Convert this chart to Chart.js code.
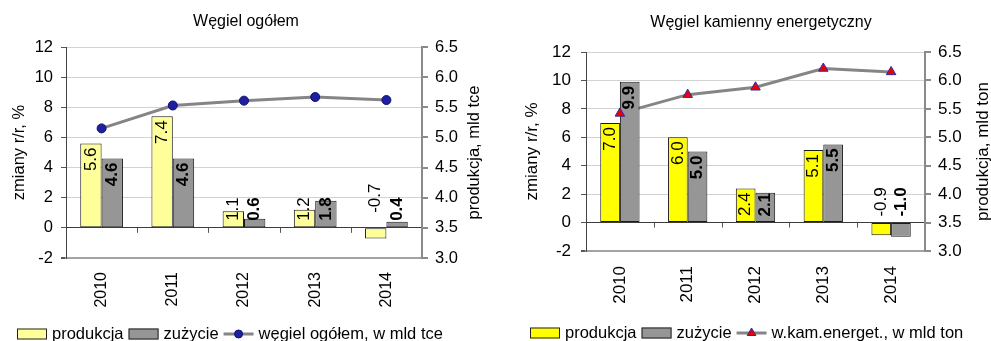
<!DOCTYPE html>
<html>
<head>
<meta charset="utf-8">
<script src="https://cdn.jsdelivr.net/npm/chart.js@4.4.1/dist/chart.umd.min.js"></script>
<style>
html,body{margin:0;padding:0;background:#fff;}
#wrap{position:relative;width:991px;height:341px;overflow:hidden;}
.box{position:absolute;top:0;height:341px;}
canvas{display:block;}
</style>
</head>
<body>
<div id="wrap">
  <div class="box" style="left:0;width:495px"><canvas id="c1" width="495" height="341"></canvas></div>
  <div class="box" style="left:495px;width:496px"><canvas id="c2" width="496" height="341"></canvas></div>
</div>
<script>
// ---- data ----
const years = ['2010', '2011', '2012', '2013', '2014'];

const titleTotal = 'Węgiel ogółem';
const prodTotal = [5.6, 7.4, 1.1, 1.2, -0.7];
const consTotal = [4.6, 4.6, 0.6, 1.8, 0.4];
const outputTotal = [5.15, 5.53, 5.61, 5.67, 5.62];
const lineLabelTotal = 'węgiel ogółem, w mld tce';
const rightTitleTotal = 'produkcja, mld tce';

const titleSteam = 'Węgiel kamienny energetyczny';
const prodSteam = [7.0, 6.0, 2.4, 5.1, -0.9];
const consSteam = [9.9, 5.0, 2.1, 5.5, -1.0];
const outputSteam = [5.42, 5.75, 5.88, 6.21, 6.15];
const lineLabelSteam = 'w.kam.energet., w mld ton';
const rightTitleSteam = 'produkcja, mld ton';

const barLabels = ['produkcja', 'zużycie'];
const leftTitle = 'zmiany r/r, %';
const leftAxis = { min: -2, max: 12, step: 2 };
const rightAxis = { min: 3.0, max: 6.5, step: 0.5 };

// ---- drawing ----
const FAM = "'Liberation Sans', Arial, Helvetica, sans-serif";
Chart.defaults.font.family = FAM;
Chart.defaults.color = '#000';

function vtext(ctx, txt, x, y, align) {
  ctx.save();
  ctx.translate(x, y);
  ctx.rotate(-Math.PI / 2);
  ctx.textAlign = align;
  ctx.textBaseline = 'middle';
  ctx.fillText(txt, 0, 0);
  ctx.restore();
}

function drawMarker(ctx, style, x, y, r, fill, stroke) {
  ctx.save();
  ctx.fillStyle = fill;
  ctx.strokeStyle = stroke;
  ctx.lineWidth = 1;
  ctx.beginPath();
  if (style === 'circle') {
    ctx.arc(x, y, r, 0, Math.PI * 2);
  } else {
    for (let k = 0; k < 3; k++) {
      const a = -Math.PI / 2 + k * 2 * Math.PI / 3;
      const px = x + Math.cos(a) * r, py = y + Math.sin(a) * r;
      if (k === 0) ctx.moveTo(px, py); else ctx.lineTo(px, py);
    }
    ctx.closePath();
  }
  ctx.fill();
  ctx.stroke();
  ctx.restore();
}

function makeChart(id, cfg) {
  const L = cfg.layout;
  const decor = {
    id: 'decor_' + id,
    afterDatasetsDraw(chart) {
      const ctx = chart.ctx;
      const ys = chart.scales.y;
      const zero = ys.getPixelForValue(0);
      [0, 1].forEach(di => {
        const meta = chart.getDatasetMeta(di);
        const vals = chart.data.datasets[di].data;
        ctx.save();
        ctx.fillStyle = '#000';
        ctx.font = (di === 1 ? 'bold ' : '') + L.labelSize + 'px ' + FAM;
        meta.data.forEach((el, i) => {
          const v = vals[i];
          const txt = v.toFixed(1);
          const len = ctx.measureText(txt).width;
          let bottom;
          if (v >= 0) {
            bottom = el.y + L.labelGap + len;
            if (bottom > zero - L.labelClamp) bottom = zero - L.labelClamp;
          } else {
            bottom = zero - L.labelNegClamp;
          }
          vtext(ctx, txt, el.x, bottom, 'left');
        });
        ctx.restore();
      });
    },
    afterDraw(chart) {
      const ctx = chart.ctx;
      const area = chart.chartArea;
      const xs = chart.scales.x, ys = chart.scales.y;
      // small ticks on zero line between categories
      const zero = ys.getPixelForValue(0);
      ctx.save();
      ctx.strokeStyle = '#555';
      ctx.lineWidth = 1;
      for (let i = 1; i < years.length; i++) {
        const x = Math.round((xs.getPixelForValue(i - 1) + xs.getPixelForValue(i)) / 2) + 0.5;
        ctx.beginPath();
        ctx.moveTo(x, zero);
        ctx.lineTo(x, zero + 5);
        ctx.stroke();
      }
      ctx.restore();
      // title
      ctx.save();
      ctx.fillStyle = '#000';
      ctx.font = L.titleSize + 'px ' + FAM;
      ctx.textAlign = 'center';
      ctx.textBaseline = 'middle';
      ctx.fillText(cfg.title, L.titleX, L.titleY);
      // axis titles
      ctx.font = L.axisTitleSize + 'px ' + FAM;
      const cy = (area.top + area.bottom) / 2;
      vtext(ctx, leftTitle, L.yTitleX, cy, 'center');
      vtext(ctx, cfg.rightTitle, L.y1TitleX, cy, 'center');
      // legend
      ctx.font = L.legendSize + 'px ' + FAM;
      ctx.textAlign = 'left';
      let x = L.legendX;
      const ly = L.legendY;
      const items = [
        { kind: 'box', color: cfg.yellow, text: barLabels[0] },
        { kind: 'box', color: '#969696', text: barLabels[1] },
        { kind: 'line', text: cfg.lineLabel }
      ];
      items.forEach(it => {
        if (it.kind === 'box') {
          ctx.fillStyle = it.color;
          ctx.fillRect(x, ly - 5.5, 30, 11);
          ctx.strokeStyle = '#222';
          ctx.lineWidth = 1;
          ctx.strokeRect(x + 0.5, ly - 5, 29, 10);
        } else {
          ctx.strokeStyle = '#858585';
          ctx.lineWidth = 3;
          ctx.beginPath();
          ctx.moveTo(x, ly);
          ctx.lineTo(x + 30, ly);
          ctx.stroke();
          drawMarker(ctx, cfg.pointStyle, x + 15, ly, cfg.pointStyle === 'circle' ? 4 : 5, cfg.pointFill, cfg.pointStroke);
        }
        x += 35;
        ctx.fillStyle = '#000';
        ctx.fillText(it.text, x, ly);
        x += ctx.measureText(it.text).width + 5;
      });
      ctx.restore();
    }
  };

  return new Chart(document.getElementById(id), {
    type: 'bar',
    data: {
      labels: years,
      datasets: [
        { label: barLabels[0], data: cfg.prod, backgroundColor: cfg.yellow, borderColor: '#1a1a1a', borderWidth: 1, borderSkipped: false, yAxisID: 'y', order: 2 },
        { label: barLabels[1], data: cfg.cons, backgroundColor: '#969696', borderColor: '#1a1a1a', borderWidth: 1, borderSkipped: false, yAxisID: 'y', order: 2 },
        { type: 'line', label: cfg.lineLabel, data: cfg.output, yAxisID: 'y1', borderColor: '#858585', borderWidth: 3, pointRadius: 0, tension: 0, fill: false, order: 5 },
        { type: 'line', label: cfg.lineLabel + ' ', data: cfg.output, yAxisID: 'y1', showLine: false, pointStyle: cfg.pointStyle, pointRadius: cfg.pointRadius, pointBackgroundColor: cfg.pointFill, pointBorderColor: cfg.pointStroke, pointBorderWidth: 1, order: 0 }
      ]
    },
    options: {
      responsive: false,
      animation: false,
      events: [],
      layout: { padding: { top: L.top, left: 0, right: 0, bottom: 0 } },
      datasets: { bar: { categoryPercentage: L.catPct, barPercentage: 1 } },
      plugins: { legend: { display: false }, title: { display: false }, tooltip: { enabled: false } },
      scales: {
        x: {
          offset: true,
          grid: { display: false, drawTicks: false },
          border: { display: true, color: '#a3a3a3', width: 2 },
          ticks: { minRotation: 90, maxRotation: 90, padding: L.xPad, font: { size: L.yearSize }, color: '#000', autoSkip: false },
          afterFit(s) { s.height = L.H - L.bottom; }
        },
        y: {
          position: 'left',
          min: leftAxis.min, max: leftAxis.max,
          grid: {
            color: c => c.tick.value === 0 ? '#3c3c3c' : (c.tick.value === leftAxis.min ? '#a3a3a3' : '#d2d2d2'),
            lineWidth: c => c.tick.value === leftAxis.min ? 2 : 1,
            tickColor: '#555', tickLength: 5, drawTicks: true
          },
          border: { display: true, color: '#444', width: 1 },
          ticks: { stepSize: leftAxis.step, padding: L.yPad, font: { size: L.tickSize }, color: '#000' },
          afterFit(s) { s.width = L.left; }
        },
        y1: {
          position: 'right',
          min: rightAxis.min, max: rightAxis.max,
          grid: { drawOnChartArea: false, tickColor: '#8a8a8a', tickLength: 6, lineWidth: 2 },
          border: { display: true, color: '#8a8a8a', width: 2 },
          ticks: { stepSize: rightAxis.step, padding: 7, font: { size: L.tickSize }, color: '#000', callback: v => Number(v).toFixed(1) },
          afterFit(s) { s.width = L.W - L.right; }
        }
      }
    },
    plugins: [decor]
  });
}

makeChart('c1', {
  title: titleTotal, prod: prodTotal, cons: consTotal, output: outputTotal,
  lineLabel: lineLabelTotal, rightTitle: rightTitleTotal,
  yellow: '#FFFF99', pointStyle: 'circle', pointRadius: 4.5, pointFill: '#1f1fa3', pointStroke: '#10106a',
  layout: { W: 495, H: 341, left: 66, right: 422, top: 47, bottom: 258, catPct: 0.6,
    titleX: 246, titleY: 22, yTitleX: 19, y1TitleX: 474, legendX: 17, legendY: 334,
    tickSize: 16.5, yearSize: 16, labelSize: 17, axisTitleSize: 16.5, legendSize: 16.5, titleSize: 16,
    xPad: 14, yPad: 8, labelGap: 4, labelClamp: 7, labelNegClamp: 15 }
});

makeChart('c2', {
  title: titleSteam, prod: prodSteam, cons: consSteam, output: outputSteam,
  lineLabel: lineLabelSteam, rightTitle: rightTitleSteam,
  yellow: '#FFFF00', pointStyle: 'triangle', pointRadius: 5.5, pointFill: '#ee0000', pointStroke: '#2a2aa8',
  layout: { W: 496, H: 341, left: 91, right: 430, top: 52, bottom: 251, catPct: 0.58,
    titleX: 266, titleY: 23, yTitleX: 37, y1TitleX: 488, legendX: 35, legendY: 333,
    tickSize: 17, yearSize: 17, labelSize: 17, axisTitleSize: 17, legendSize: 16.5, titleSize: 16,
    xPad: 15, yPad: 10, labelGap: 4, labelClamp: 6, labelNegClamp: 6 }
});
</script>
</body>
</html>
